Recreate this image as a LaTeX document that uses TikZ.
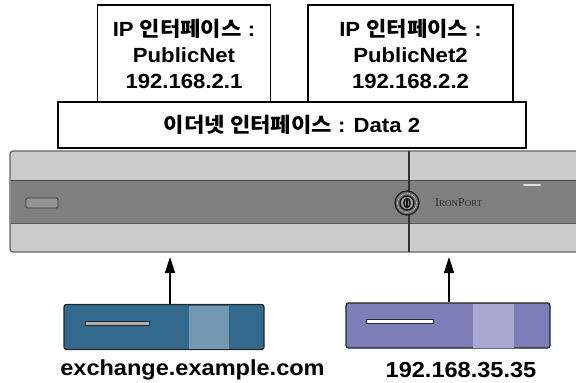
\documentclass[tikz,border=0pt]{standalone}
\usepackage{fontspec}
\setmainfont{Liberation Sans}[FakeStretch=1.08]
\newfontfamily\kr{Noto Sans CJK KR}[FakeStretch=1.08]
\newfontfamily\plate{Liberation Serif}
\usetikzlibrary{arrows.meta}

\tikzset{
  ifbox/.style={draw=black,line width=1.5pt,align=center,inner sep=0pt,
    font=\fontsize{20.5}{26}\selectfont\bfseries},
  hostbox/.style={draw={rgb,255:red,38;green,38;blue,38},line width=1.3pt,
    rounded corners=2.5pt,inner sep=0pt},
  hostlabel/.style={font=\fontsize{21.8}{24}\selectfont\bfseries,inner sep=0pt},
  link/.style={line width=1.6pt,-{Triangle[length=16pt,width=10pt]}},
}

\begin{document}
\begin{tikzpicture}[x=1pt,y=-1pt]
% 576 x 383, appliance front with two hosts below it
\useasboundingbox (0,0) rectangle (576,383);
\clip (0,0) rectangle (576,383);

% appliance front panel
\draw[fill={rgb,255:red,203;green,203;blue,203},draw={rgb,255:red,100;green,100;blue,100},
  line width=1.2pt,rounded corners=3pt] (590,151) -- (10,151) -- (10,252) -- (590,252);
\path[fill={rgb,255:red,128;green,128;blue,128}] (10.6,180) rectangle (590,223);
\draw[draw={rgb,255:red,70;green,70;blue,70},line width=1pt] (10.6,180) -- (590,180);
\draw[draw={rgb,255:red,90;green,90;blue,90},line width=1pt] (10.6,223) -- (590,223);
\draw[draw={rgb,255:red,50;green,50;blue,50},line width=1.1pt] (409,151) -- (409,252);
% status slot and light
\draw[fill={rgb,255:red,150;green,150;blue,150},draw={rgb,255:red,60;green,60;blue,60},
  line width=0.9pt,rounded corners=1.5pt] (26,198) rectangle (58,208);
\draw[draw={rgb,255:red,225;green,225;blue,225},line width=2pt,line cap=round] (524,185) -- (540,185);
% badge and brand
\node (logo) [circle,minimum size=24pt,inner sep=0pt,line width=1.2pt,
  draw={rgb,255:red,30;green,30;blue,30},fill={rgb,255:red,110;green,110;blue,110}] at (407,203) {};
\draw[draw={rgb,255:red,215;green,215;blue,215},line width=0.6pt,dash pattern=on 1pt off 0.7pt] (logo.center) circle (9.5pt);
\draw[draw={rgb,255:red,25;green,25;blue,25},fill={rgb,255:red,160;green,160;blue,160},line width=1.4pt] (logo.center) circle (7pt);
\draw[draw={rgb,255:red,25;green,25;blue,25},line width=1.6pt] (logo.center) ellipse (3pt and 4.5pt);
\draw[draw={rgb,255:red,25;green,25;blue,25},line width=1.6pt] (407,199) -- (407,207);
\node (brand) [anchor=west,inner sep=0pt,text={rgb,255:red,45;green,45;blue,45},
  font=\plate\fontsize{12}{12}\selectfont] at (435,203)
  {I\fontsize{9}{9}\selectfont RON\fontsize{12}{12}\selectfont P\fontsize{9}{9}\selectfont ORT};

% interface boxes
\node (ip1) [ifbox,minimum width=173pt,minimum height=97pt] at (184,53.5)
  {IP {\kr 인터페이스} :\\PublicNet\\192.168.2.1};
\node (ip2) [ifbox,minimum width=205pt,minimum height=97pt] at (410.5,53.5)
  {IP {\kr 인터페이스} :\\PublicNet2\\192.168.2.2};
\node (eth) [ifbox,minimum width=468pt,minimum height=46pt] at (292,125)
  {{\kr 이더넷 인터페이스} : Data 2};

% hosts
\node (host1) [hostbox,fill={rgb,255:red,51;green,105;blue,141},minimum width=200pt,minimum height=45pt] at (164,327) {};
\path[fill={rgb,255:red,114;green,153;blue,177}] (189,305.5) rectangle (229,348.5);
\draw[fill={rgb,255:red,176;green,176;blue,176},draw={rgb,255:red,40;green,40;blue,40},line width=0.9pt] (85,321) rectangle (149,325);
\node (host2) [hostbox,fill={rgb,255:red,126;green,125;blue,184},minimum width=204pt,minimum height=45pt] at (448,325.5) {};
\path[fill={rgb,255:red,169;green,168;blue,211}] (473,303.5) rectangle (514,347.5);
\draw[fill=white,draw={rgb,255:red,40;green,40;blue,40},line width=0.9pt] (366,319) rectangle (433,323.5);

\node (name1) [hostlabel] at (192.5,370) {exchange.example.com};
\node (name2) [hostlabel] at (461,370) {192.168.35.35};

% links into the appliance
\coordinate (port1) at (170,257);
\coordinate (port2) at (449,257);
\draw[link] (port1 |- host1.north) -- (port1);
\draw[link] (port2 |- host2.north) -- (port2);
\end{tikzpicture}
\end{document}
